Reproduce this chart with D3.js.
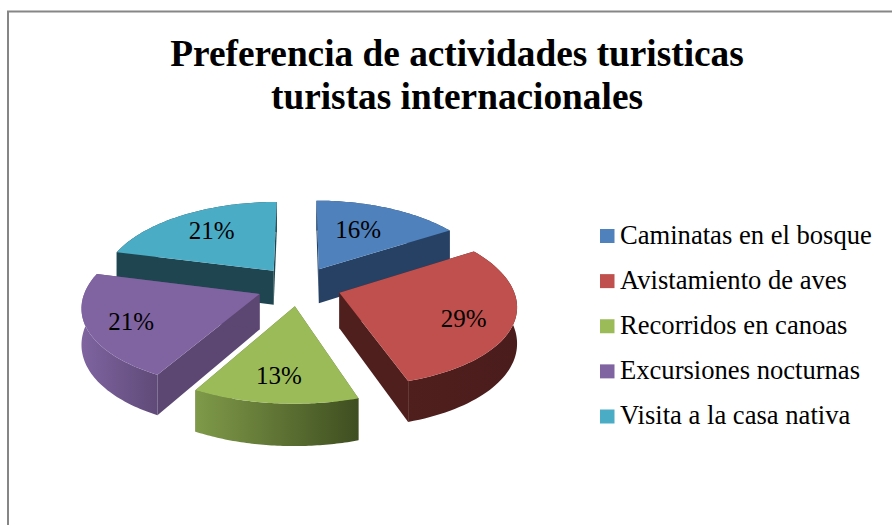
<!DOCTYPE html>
<html><head><meta charset="utf-8">
<script src="https://cdn.jsdelivr.net/npm/d3@7"></script>
<style>html,body{margin:0;padding:0;background:#fff}svg{display:block}text{font-family:"Liberation Serif","Times New Roman",serif;fill:#000}</style>
</head><body><svg id="c" width="892" height="525"></svg>
<script>
const titleLines = ["Preferencia de actividades turisticas","turistas internacionales"];
const categories = ["Caminatas en el bosque","Avistamiento de aves","Recorridos en canoas","Excursiones nocturnas","Visita a la casa nativa"];
const percentages = [16,29,13,21,21];
const topColors = ["#4f81bd","#c0504d","#9bbb59","#8064a2","#4bacc6"];
const wallColors = ["#264163","#4f1f1d","#5b6e34","#5c4772","#1f4650"];
const outerFrom = ["#264163","#4f1f1d","#7f9a49","#7f64a0","#1f4650"];
const outerTo = ["#264163","#4a1c1b","#3f4e20","#5f4a78","#1f4650"];
const drawOrder = [4,0,3,1,2];
const labelNudge = [[-3,-3],[0,5],[-2,2],[-6,3],[5,1]];

const svg = d3.select("#c");
const cx=299, cy=286, R=173, Ry=80.5, k=0.14, ky=0.12, depth=35, explode=0.245;

// frame
svg.append("path").attr("d","M8,525V11.5H892").attr("fill","none").attr("stroke","#868686").attr("stroke-width",2);

// title
svg.selectAll("text.t").data(titleLines).join("text").attr("class","t")
  .attr("x",457).attr("y",(d,i)=>66+i*43).attr("text-anchor","middle")
  .attr("font-size",37.3).attr("font-weight","bold").text(d=>d);

const project=(u,v,z)=>{const s=1/(1+k*v), sy=1/(1+ky*v);return [cx+R*u*s, cy-Ry*v*sy+z*depth*s];};
const arcs=d3.pie().sort(null).value(d=>d)(percentages);
const line=d3.line();
const defs=svg.append("defs");
const pt=(a,r,th,z)=>{
  const mid=(a.startAngle+a.endAngle)/2;
  return project(explode*Math.sin(mid)+r*Math.sin(th), explode*Math.cos(mid)+r*Math.cos(th), z);
};
const rim=(a,z)=>d3.range(0,61).map(i=>pt(a,1,a.startAngle+(a.endAngle-a.startAngle)*i/60,z));

drawOrder.forEach(i=>{
  const a=arcs[i], g=svg.append("g");
  const gid="outer"+i;
  const lg=defs.append("linearGradient").attr("id",gid);
  lg.append("stop").attr("offset",0).attr("stop-color",outerFrom[i]);
  lg.append("stop").attr("offset",1).attr("stop-color",outerTo[i]);
  const c0=pt(a,0,0,0), c1=pt(a,0,0,1);
  const s0=pt(a,1,a.startAngle,0), s1=pt(a,1,a.startAngle,1);
  const e0=pt(a,1,a.endAngle,0), e1=pt(a,1,a.endAngle,1);
  g.append("path").attr("d",line([c0,s0,s1,c1])+"Z").attr("fill",wallColors[i]);
  g.append("path").attr("d",line([c0,e0,e1,c1])+"Z").attr("fill",wallColors[i]);
  g.append("path").attr("d",line(rim(a,0).concat(rim(a,1).reverse()))+"Z").attr("fill",`url(#${gid})`);
  g.append("path").attr("d",line([c0].concat(rim(a,0)))+"Z").attr("fill",topColors[i]);
});

// data labels
arcs.forEach((a,i)=>{
  const mid=(a.startAngle+a.endAngle)/2, p=pt(a,0.72*(i===0?0.8:1),mid,0);
  svg.append("text").attr("x",p[0]+labelNudge[i][0]).attr("y",p[1]+8.5+labelNudge[i][1]).attr("text-anchor","middle")
    .attr("font-size",25).text(percentages[i]+"%");
});

// legend
const ly=d3.scalePoint().domain(categories).range([236,416.5]);
const lg=svg.selectAll("g.l").data(categories).join("g").attr("class","l").attr("transform",d=>`translate(0,${ly(d)})`);
lg.append("rect").attr("x",600).attr("y",-7).attr("width",14.5).attr("height",14).attr("fill",(d,i)=>topColors[i]);
lg.append("text").attr("x",620).attr("y",7.5).attr("font-size",26.6).text(d=>d);
</script></body></html>
